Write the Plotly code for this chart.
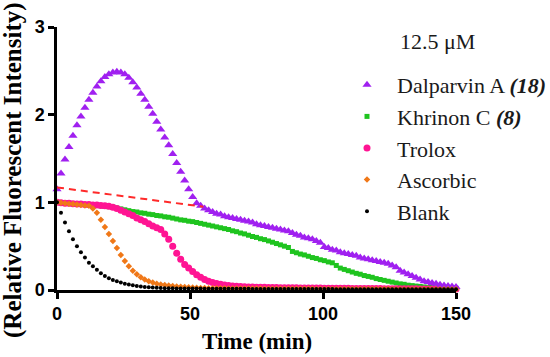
import plotly.graph_objects as go

# Sampling times (min), one reading every 1.5 min
time_min = [0, 1.5, 3, 4.5, 6, 7.5, 9, 10.5, 12, 13.5, 15, 16.5, 18, 19.5, 21, 22.5, 24, 25.5, 27, 28.5,
            30, 31.5, 33, 34.5, 36, 37.5, 39, 40.5, 42, 43.5, 45, 46.5, 48, 49.5, 51, 52.5, 54, 55.5, 57, 58.5,
            60, 61.5, 63, 64.5, 66, 67.5, 69, 70.5, 72, 73.5, 75, 76.5, 78, 79.5, 81, 82.5, 84, 85.5, 87, 88.5,
            90, 91.5, 93, 94.5, 96, 97.5, 99, 100.5, 102, 103.5, 105, 106.5, 108, 109.5, 111, 112.5, 114, 115.5, 117, 118.5,
            120, 121.5, 123, 124.5, 126, 127.5, 129, 130.5, 132, 133.5, 135, 136.5, 138, 139.5, 141, 142.5, 144, 145.5, 147, 148.5,
            150]

dalparvin_a = [1.15, 1.33, 1.49, 1.63, 1.76, 1.88, 1.98, 2.08, 2.17, 2.25,
               2.32, 2.38, 2.43, 2.46, 2.48, 2.49, 2.48, 2.46, 2.42, 2.37,
               2.31, 2.24, 2.17, 2.09, 2.01, 1.92, 1.83, 1.74, 1.65, 1.55,
               1.45, 1.35, 1.25, 1.15, 1.06, 0.99, 0.96, 0.93, 0.91, 0.89,
               0.87, 0.86, 0.84, 0.83, 0.82, 0.81, 0.80, 0.79, 0.78, 0.77,
               0.75, 0.74, 0.73, 0.72, 0.71, 0.70, 0.69, 0.68, 0.67, 0.65,
               0.63, 0.62, 0.60, 0.59, 0.58, 0.56, 0.54, 0.49, 0.48, 0.46,
               0.45, 0.43, 0.42, 0.41, 0.40, 0.39, 0.37, 0.36, 0.35, 0.34,
               0.33, 0.32, 0.31, 0.30, 0.28, 0.26, 0.22, 0.20, 0.18, 0.16,
               0.14, 0.12, 0.10, 0.09, 0.08, 0.07, 0.06, 0.05, 0.045, 0.04,
               0.035]

khrinon_c = [1.00, 0.995, 0.99, 0.99, 0.985, 0.98, 0.98, 0.975, 0.97, 0.97,
             0.965, 0.96, 0.955, 0.95, 0.945, 0.935, 0.925, 0.915, 0.905, 0.895,
             0.89, 0.88, 0.875, 0.865, 0.86, 0.85, 0.845, 0.835, 0.83, 0.82,
             0.81, 0.80, 0.795, 0.785, 0.78, 0.77, 0.76, 0.75, 0.74, 0.73,
             0.72, 0.71, 0.70, 0.69, 0.675, 0.665, 0.65, 0.64, 0.625, 0.61,
             0.60, 0.585, 0.575, 0.56, 0.545, 0.53, 0.515, 0.50, 0.485, 0.44,
             0.425, 0.41, 0.40, 0.385, 0.37, 0.36, 0.345, 0.335, 0.32, 0.31,
             0.28, 0.25, 0.235, 0.22, 0.205, 0.19, 0.18, 0.165, 0.155, 0.145,
             0.13, 0.12, 0.11, 0.10, 0.09, 0.08, 0.07, 0.065, 0.055, 0.05,
             0.045, 0.04, 0.035, 0.03, 0.03, 0.025, 0.025, 0.02, 0.02, 0.02,
             0.02]

trolox = [1.00, 0.995, 0.99, 0.99, 0.985, 0.98, 0.98, 0.975, 0.975, 0.97,
          0.97, 0.965, 0.96, 0.955, 0.945, 0.93, 0.91, 0.89, 0.87, 0.85,
          0.82, 0.80, 0.78, 0.755, 0.73, 0.71, 0.69, 0.64, 0.58, 0.50,
          0.42, 0.35, 0.29, 0.25, 0.21, 0.175, 0.145, 0.12, 0.10, 0.085,
          0.075, 0.065, 0.058, 0.052, 0.047, 0.043, 0.04, 0.037, 0.035, 0.033,
          0.031, 0.03, 0.03, 0.029, 0.028, 0.028, 0.027, 0.026, 0.026, 0.025,
          0.025, 0.024, 0.024, 0.023, 0.023, 0.022, 0.022, 0.021, 0.021, 0.02,
          0.02, 0.02, 0.019, 0.019, 0.018, 0.018, 0.017, 0.017, 0.017, 0.016,
          0.016, 0.016, 0.015, 0.015, 0.015, 0.014, 0.014, 0.014, 0.013, 0.013,
          0.013, 0.012, 0.012, 0.012, 0.012, 0.011, 0.011, 0.011, 0.011, 0.01,
          0.01]

ascorbic = [1.00, 0.995, 0.99, 0.985, 0.98, 0.975, 0.97, 0.965, 0.96, 0.93,
            0.88, 0.80, 0.72, 0.64, 0.56, 0.48, 0.40, 0.33, 0.27, 0.22,
            0.18, 0.145, 0.12, 0.10, 0.085, 0.072, 0.063, 0.056, 0.05, 0.045,
            0.04, 0.036, 0.033, 0.03, 0.028, 0.026, 0.024, 0.022, 0.021, 0.02,
            0.02, 0.019, 0.019, 0.018, 0.018, 0.018, 0.017, 0.017, 0.017, 0.016,
            0.016, 0.016, 0.015, 0.015, 0.015, 0.015, 0.014, 0.014, 0.014, 0.014,
            0.013, 0.013, 0.013, 0.013, 0.013, 0.012, 0.012, 0.012, 0.012, 0.012,
            0.011, 0.011, 0.011, 0.011, 0.011, 0.011, 0.01, 0.01, 0.01, 0.01,
            0.01, 0.01, 0.01, 0.01, 0.009, 0.009, 0.009, 0.009, 0.009, 0.009,
            0.009, 0.009, 0.009, 0.008, 0.008, 0.008, 0.008, 0.008, 0.008, 0.008,
            0.008]

blank = [1.00, 0.88, 0.77, 0.67, 0.58, 0.50, 0.43, 0.37, 0.31, 0.27,
         0.23, 0.19, 0.16, 0.135, 0.115, 0.10, 0.085, 0.072, 0.062, 0.053,
         0.046, 0.04, 0.035, 0.031, 0.028, 0.025, 0.023, 0.021, 0.02, 0.019,
         0.018, 0.018, 0.017, 0.017, 0.016, 0.016, 0.016, 0.015, 0.015, 0.015,
         0.014, 0.014, 0.014, 0.014, 0.013, 0.013, 0.013, 0.013, 0.013, 0.012,
         0.012, 0.012, 0.012, 0.012, 0.011, 0.011, 0.011, 0.011, 0.011, 0.011,
         0.01, 0.01, 0.01, 0.01, 0.01, 0.01, 0.01, 0.01, 0.01, 0.01,
         0.009, 0.009, 0.009, 0.009, 0.009, 0.009, 0.009, 0.009, 0.009, 0.009,
         0.009, 0.008, 0.008, 0.008, 0.008, 0.008, 0.008, 0.008, 0.008, 0.008,
         0.008, 0.008, 0.008, 0.008, 0.008, 0.008, 0.008, 0.008, 0.008, 0.008,
         0.008]

# Dashed red reference line (extrapolated baseline of Dalparvin A)
dash_x = [0, 55]
dash_y = [1.17, 0.95]

x_ticks = [0, 50, 100, 150]
y_ticks = [0, 1, 2, 3]

SERIF = "Liberation Serif"
SANS = "Liberation Sans, Arial, sans-serif"

PL, PR, PT, PB = 57, 456, 27, 290   # plot-area pixel edges
PW, PH = PR - PL, PB - PT

fig = go.Figure()

def add_series(name, y, symbol, size, color, rank):
    fig.add_trace(go.Scatter(
        x=time_min, y=y, mode="markers", name=name,
        legendgroup=name, legendrank=rank,
        marker=dict(symbol=symbol, size=size, color=color, line=dict(width=0)),
        cliponaxis=False,
    ))

def serif(s):
    return "<span style='font-family:Liberation Serif'>" + s + "</span>"

add_series(serif("Khrinon C ") + "<b><i>(8)</i></b>", khrinon_c, "square", 5, "#1FC41F", 2)
add_series("Trolox", trolox, "circle", 7, "#FF1493", 3)
add_series(serif("Dalparvin A ") + "<b><i>(18)</i></b>", dalparvin_a, "triangle-up", 8, "#A020F0", 1)

fig.add_trace(go.Scatter(
    x=dash_x, y=dash_y, mode="lines", showlegend=False,
    line=dict(color="#FF2A2A", width=2, dash="7px,5px"), cliponaxis=False,
))

add_series("Ascorbic", ascorbic, "diamond", 5, "#F07818", 4)
add_series("Blank", blank, "circle", 4, "#000000", 5)

fig.update_layout(
    width=550, height=357,
    margin=dict(l=PL, r=550 - PR, t=PT, b=357 - PB, autoexpand=False),
    paper_bgcolor="white", plot_bgcolor="white",
    showlegend=True,
    legend=dict(
        x=(337 - PL) / PW, y=(PB - 64) / PH, xanchor="left", yanchor="top",
        font=dict(family=SERIF, size=22, color="#1a1a1a"),
        tracegroupgap=0, itemwidth=50, bgcolor="rgba(0,0,0,0)",
        maxheight=400,
    ),
    xaxis=dict(
        range=[0, 150], tickvals=x_ticks, ticktext=[str(v) for v in x_ticks],
        showline=True, linecolor="black", linewidth=2.5, mirror=False,
        ticks="outside", ticklen=6, tickwidth=2.5, tickcolor="black",
        showgrid=False, zeroline=False, automargin=False,
        tickfont=dict(family=SANS, size=18, color="black", weight="bold"),
    ),
    yaxis=dict(
        range=[0, 3], tickvals=y_ticks, ticktext=[str(v) for v in y_ticks],
        showline=True, linecolor="black", linewidth=2.5,
        ticks="outside", ticklen=6, tickwidth=2.5, tickcolor="black",
        showgrid=False, zeroline=False, automargin=False,
        tickfont=dict(family=SANS, size=18, color="black", weight="bold"),
    ),
    annotations=[
        dict(
            text="<b>(Relative Fluorescent Intensity)</b>", textangle=-90,
            xref="paper", yref="paper", x=(13 - PL) / PW, y=(PB - 170) / PH,
            xanchor="center", yanchor="middle", showarrow=False,
            font=dict(family=SERIF, size=25, color="black"),
        ),
        dict(
            text="<b>Time (min)</b>",
            xref="paper", yref="paper", x=0.5, y=(PB - 341) / PH,
            xanchor="center", yanchor="middle", showarrow=False,
            font=dict(family=SERIF, size=23, color="black"),
        ),
        dict(
            text="12.5 μM",
            xref="paper", yref="paper", x=(398 - PL) / PW, y=(PB - 41) / PH,
            xanchor="left", yanchor="middle", showarrow=False,
            font=dict(family=SERIF, size=22, color="#1a1a1a"),
        ),
    ],
)

fig.write_html("out.html", config={"displayModeBar": False},
               post_script="document.body.style.margin='0';")
